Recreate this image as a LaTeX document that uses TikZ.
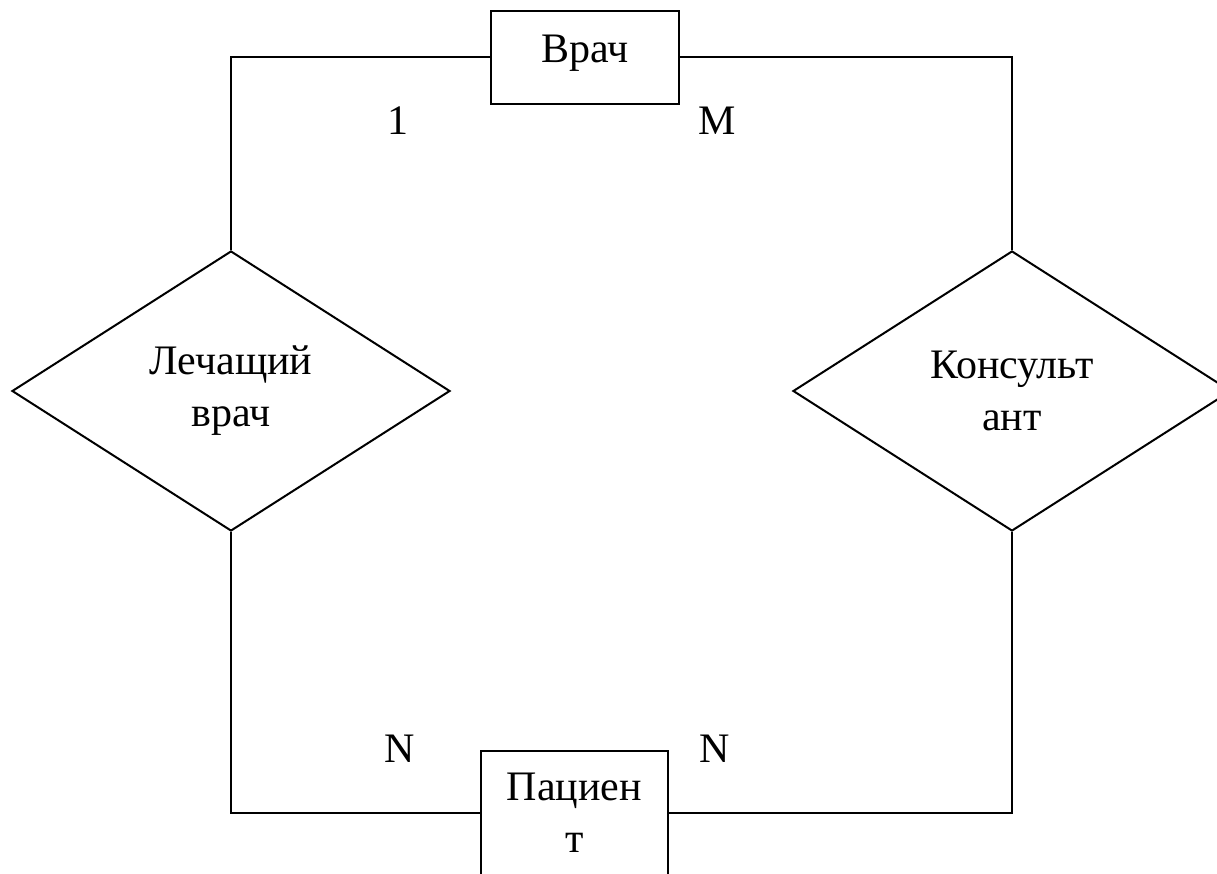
\documentclass[tikz,border=0pt]{standalone}
\usepackage{fontspec}
\setmainfont{Liberation Serif}
\usetikzlibrary{shapes.geometric, positioning}

\begin{document}
\begin{tikzpicture}[x=1pt, y=-1pt, line width=2pt,
    every node/.style={font=\fontsize{42}{52}\selectfont},
    entity/.style={draw, rectangle, inner sep=0pt, align=center},
    relation/.style={draw, diamond, minimum width=438pt, minimum height=280pt, inner sep=0pt, align=center}]
            \useasboundingbox (0,0) rectangle (1217,874);
            \node[entity, minimum width=188pt, minimum height=93pt, text height=30pt, text depth=20pt] (vrach) at (585,57.5) {Врач};
            \node[entity, minimum width=187pt, minimum height=124pt] (pacient) at (574.5,813) {Пациен\\т};
            \node[relation] (lechvrach) at (231,391) {Лечащий\\врач};
            \node[relation] (konsultant) at (1012,391) {Консульт\\ант};
            \draw (vrach.west) -| (lechvrach.north);
            \draw (vrach.east) -| (konsultant.north);
            \draw (lechvrach.south) |- (pacient.west);
            \draw (konsultant.south) |- (pacient.east);
            \node (card1) at (397.5,135) [anchor=base] {1};
            \node (cardM) at (717.5,135) [anchor=base] {M};
            \node (cardN1) at (400,762) [anchor=base] {N};
            \node (cardN2) at (715,762) [anchor=base] {N};
        \end{tikzpicture}
\end{document}
